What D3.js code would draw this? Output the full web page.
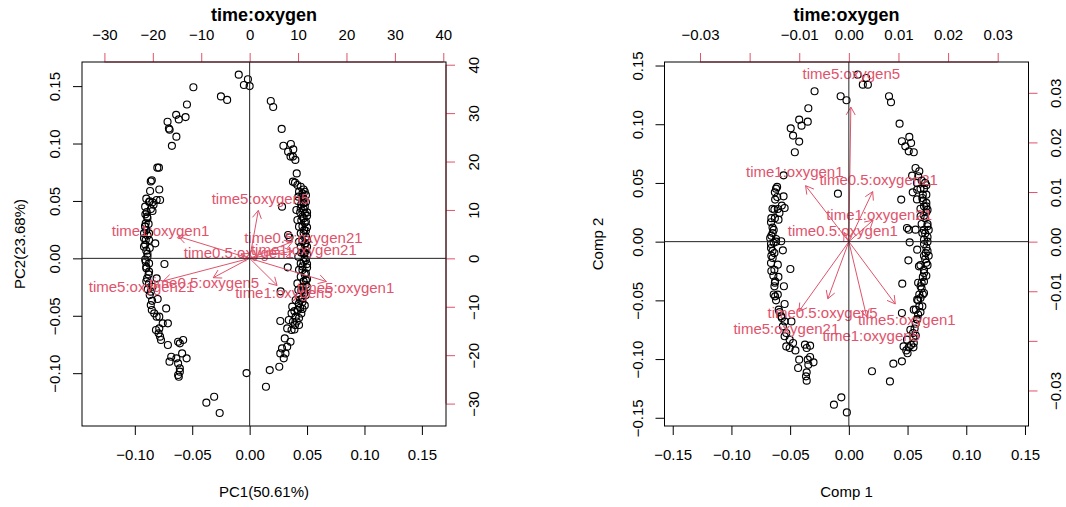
<!DOCTYPE html>
<html><head><meta charset="utf-8">
<script src="https://cdn.jsdelivr.net/npm/d3@7"></script>
<style>
body{margin:0;background:#fff}
svg{display:block}
text{font-family:"Liberation Sans",Arial,Helvetica,sans-serif}
</style>
</head><body>
<svg id="c" width="1066" height="507"></svg>
<script>
// ---------------- data ----------------
const varNames = ["time0.5:oxygen1","time1:oxygen1","time5:oxygen1",
                  "time0.5:oxygen5","time1:oxygen5","time5:oxygen5",
                  "time0.5:oxygen21","time1:oxygen21","time5:oxygen21"];

// left panel (prcomp biplot): loadings in top/right axis units
const leftLoadX = [-2.24, -18.4, 19.8, -9.4, 7.08, 2.24, 11.1, 11.2, -22.3];
const leftLoadY = [1.17, 5.64, -5.98, -5.0, -7.01, 12.37, 4.33, 1.86, -5.84];

// right panel (princomp biplot): loadings
const rightLoadX = [-0.0012, -0.0109, 0.0117, -0.0053, 0.0045, 0.0005, 0.0060, 0.0061, -0.0126];
const rightLoadY = [0.0023, 0.0141, -0.0157, -0.0144, -0.0190, 0.0339, 0.0126, 0.0054, -0.0176];

// scores, left panel [PC1, PC2]
const leftScores = [
[-0.0095,0.160],[-0.0015,0.156],[-0.005,0.151],[0.000,0.150],[-0.049,0.149],[-0.025,0.141],[-0.0196,0.138],[-0.0546,0.134],[-0.0715,0.119],[-0.064,0.125],[-0.0558,0.123],[-0.0617,0.121],[-0.0703,0.113],[-0.0697,0.112],[-0.0638,0.106],[-0.0677,0.098],[-0.0804,0.079],[-0.079,0.079],[-0.0852,0.068],[-0.0861,0.067],[-0.0787,0.060],[-0.0867,0.0587],[-0.078,0.0508],[-0.0876,0.049],[-0.081,0.0508],[-0.0846,0.0488],[-0.087,0.0497],[-0.0837,0.0467],[-0.0896,0.0404],[-0.0908,0.0383],[-0.0846,0.0412],[-0.0893,0.0363],[-0.0905,0.0305],[-0.0911,0.0276],[-0.092,0.0218],[-0.09,0.0247],[-0.0876,0.0218],[-0.092,0.0174],[-0.0905,0.016],[-0.0876,0.016],[-0.0822,0.0131],[-0.092,0.0102],[-0.09,0.0067],[-0.089,0.0015],[-0.0905,-0.0029],[-0.0876,-0.0044],[-0.09,-0.0073],[-0.09,-0.0087],[-0.0742,-0.0049],[-0.0876,-0.0116],[-0.0893,-0.0174],[-0.081,-0.0174],[-0.0876,-0.0218],[-0.0846,-0.0247],[-0.0888,-0.027],[-0.0861,-0.029],[-0.0801,-0.0354],[-0.0861,-0.0407],[-0.0852,-0.045],[-0.0831,-0.0479],[-0.0787,-0.0508],[-0.0727,-0.0436],[-0.081,-0.0508],[-0.0757,-0.0566],[-0.0712,-0.0566],[-0.0787,-0.061],[-0.0816,-0.0624],[-0.0793,-0.0653],[-0.078,-0.0682],[-0.0772,-0.0711],[-0.0712,-0.0755],[-0.0623,-0.0726],[-0.0608,-0.074],[-0.0579,-0.0711],[-0.0549,-0.0871],[-0.0588,-0.0828],[-0.0638,-0.0871],[-0.0683,-0.0857],[-0.0698,-0.09],[-0.0623,-0.0915],[-0.0608,-0.0958],[-0.0623,-0.1016],[-0.0617,-0.1031],[-0.0608,-0.0987],
[-0.091,0.045],[-0.089,0.035],[-0.091,0.028],[-0.089,0.020],[-0.091,0.012],[-0.089,0.004],[-0.091,-0.001],[-0.088,-0.014],[-0.090,-0.020],[-0.087,-0.032],[-0.088,0.030],[-0.086,0.043],[-0.09,0.052],[-0.087,0.009],[-0.085,-0.037],
[-0.0377,-0.1257],[-0.0309,-0.1205],[-0.0261,-0.1347],[-0.0027,-0.0999],[0.0142,-0.1118],[0.0175,-0.0973],[0.0258,-0.0944],
[0.0184,0.137],[0.0205,0.1318],[0.0279,0.1127],[0.0294,0.0981],[0.0359,0.0996],[0.038,0.0949],[0.0335,0.0929],[0.0356,0.0886],[0.0377,0.0886],[0.0398,0.0857],[0.041,0.074],[0.0377,0.0668],[0.0395,0.0659],[0.0416,0.0639],[0.0445,0.0624],[0.043,0.0581],[0.046,0.0566],[0.0424,0.0537],[0.0469,0.0479],[0.0407,0.0421],[0.0445,0.0436],[0.0481,0.0392],[0.0282,0.045],[0.0416,0.0334],[0.046,0.0363],[0.049,0.0319],[0.043,0.0276],[0.0475,0.0247],[0.0445,0.0218],[0.049,0.0189],[0.0335,0.0203],[0.0347,0.0183],[0.043,0.0145],[0.0484,0.0131],[0.0445,0.0102],[0.049,0.0073],[0.0469,0.0044],[0.0424,0.0015],[0.049,-0.0015],[0.0445,-0.0044],[0.0332,-0.0078],[0.046,-0.0102],[0.049,-0.0131],[0.0445,-0.016],[0.049,-0.0189],[0.0416,-0.0218],[0.046,-0.0247],[0.0424,-0.0276],[0.027,-0.0287],[0.0475,-0.0305],[0.043,-0.0334],[0.0401,-0.0363],[0.043,-0.0392],[0.0371,-0.0421],[0.0416,-0.045],[0.0365,-0.0479],[0.0401,-0.0508],[0.0341,-0.0537],[0.0377,-0.0552],[0.0267,-0.0546],[0.0395,-0.0581],[0.0327,-0.061],[0.0365,-0.0624],[0.0306,-0.0697],[0.0356,-0.0726],[0.0327,-0.0769],[0.0282,-0.0784],[0.0267,-0.0828],[0.0312,-0.0828],[0.0297,-0.0871],
[0.047,0.052],[0.048,0.045],[0.046,0.028],[0.05,0.01],[0.048,0.0],[0.05,-0.005],[0.047,-0.02],[0.05,-0.025],[0.046,-0.035],[0.044,-0.043],[0.047,0.035],[0.05,0.04],[0.045,0.005],[0.049,0.024],[0.043,-0.01],[0.044,0.04],[0.042,-0.045],[0.039,-0.046],
[0.048,0.058],[0.046,0.054],[0.049,0.049],[0.047,0.043],[0.050,0.037],[0.048,0.031],[0.050,0.027],[0.047,0.022],[0.050,0.016],[0.048,0.012],[0.050,0.003],[0.047,-0.003],[0.050,-0.008],[0.048,-0.014],[0.050,-0.018],[0.047,-0.028],[0.049,-0.032],[0.046,-0.038],[0.048,-0.041],[0.045,-0.048],[0.043,-0.052],[0.046,-0.044],[0.049,0.055],[0.045,0.033],[0.046,0.015],[0.046,-0.007],[0.045,-0.028],[0.044,-0.036],[0.041,-0.055],[0.043,-0.058],[0.039,-0.062],[0.047,0.060],[0.048,0.005],[0.049,-0.023],[0.045,0.047],[0.042,0.05]
];

// scores, right panel [Comp 1, Comp 2]
const rightScores = [
[0.0075,0.1422],[0.0148,0.1394],[0.0119,0.1337],[0.0162,0.1337],[-0.0070,0.1238],[-0.0020,0.1204],[-0.0292,0.1281],[0.0342,0.1238],[0.0359,0.1187],[-0.0345,0.1136],[-0.0423,0.1039],[-0.0350,0.1022],[-0.0403,0.0988],[-0.0495,0.0965],[-0.0475,0.0903],[-0.0423,0.0852],[-0.0460,0.0761],[0.0432,0.1005],[0.0515,0.0892],[0.0452,0.0855],[0.0530,0.0840],[0.0481,0.0812],[0.0510,0.0769],[0.0553,0.0761],[0.0568,0.0627],[0.0539,0.0562],[0.0591,0.0557],
[-0.0556,0.0565],[-0.0611,0.0466],[-0.0620,0.0451],[-0.0556,0.0386],[-0.0628,0.0358],[-0.0571,0.0307],[-0.0547,0.0287],[-0.0605,0.0278],[-0.0634,0.0273],[-0.0591,0.0244],[-0.0663,0.0165],[-0.0599,0.0187],[-0.0649,0.0074],[-0.0620,0.0023],[-0.0663,-0.0020],[-0.0576,0.0003],[-0.0663,-0.0054],[-0.0634,-0.0097],[-0.0562,-0.0074],[-0.0649,-0.0139],[-0.0663,-0.0182],[-0.0605,-0.0196],[-0.0634,-0.0239],[-0.0643,-0.0290],[-0.0628,-0.0338],[-0.0498,-0.0233],[-0.0553,-0.0380],[-0.0634,-0.0380],[-0.0605,-0.0451],[-0.0628,-0.0466],[-0.0547,-0.0531],[-0.0597,-0.0579],[-0.0576,-0.0636],[-0.0547,-0.0679],[-0.0489,-0.0679],[-0.0562,-0.0721],[-0.0533,-0.0778],[-0.0547,-0.0806],[-0.0504,-0.0835],[-0.0475,-0.0863],[-0.0533,-0.0892],[-0.0504,-0.0906],[-0.0455,-0.0926],[-0.0374,-0.0877],[-0.0330,-0.0886],[-0.0359,-0.0906],[-0.0423,-0.1005],[-0.0432,-0.1076],[-0.0350,-0.1005],[-0.0301,-0.1028],[-0.0345,-0.1048],[-0.0359,-0.1113],[-0.0365,-0.1147],[-0.0359,-0.1184],[-0.0330,-0.0982],
[-0.066,0.005],[-0.064,-0.001],[-0.065,0.012],[-0.063,0.02],[-0.066,-0.012],[-0.062,0.0],[-0.060,-0.03],
[-0.065,0.028],[-0.066,0.020],[-0.064,0.010],[-0.067,0.003],[-0.065,-0.008],[-0.066,-0.025],[-0.063,-0.035],[-0.064,-0.045],[-0.062,-0.05],[-0.061,0.038],[-0.063,0.042],[-0.059,-0.06],[-0.057,-0.065],
[-0.0093,0.0409],[0.0446,0.0358],[0.0544,0.0420],[0.0582,0.0443],[0.0626,0.0372],[0.0640,0.0301],[0.0611,0.0216],[0.0495,0.0116],[0.0510,0.0102],[0.0568,0.0102],[0.0518,-0.0006],[0.0626,0.0074],[0.0640,0.0017],[0.0582,-0.0068],[0.0669,0.0131],[0.0655,-0.0097],[0.0507,-0.0159],[0.0597,-0.0210],[0.0640,-0.0267],[0.0455,-0.0358],[0.0611,-0.0380],[0.0640,-0.0437],[0.0582,-0.0494],[0.0626,-0.0551],[0.0553,-0.0579],[0.0452,-0.0608],[0.0582,-0.0664],[0.0524,-0.0750],[0.0547,-0.0778],[0.0495,-0.0835],[0.0553,-0.0863],[0.0466,-0.0892],[0.0489,-0.0926],[0.0452,-0.1019],[0.0379,-0.1039],[0.0197,-0.1104],[0.0350,-0.1190],
[0.066,0.03],[0.065,0.02],[0.067,0.0],[0.066,-0.005],[0.064,0.01],[0.065,-0.015],[0.063,-0.03],[0.062,-0.035],[0.06,-0.045],[0.059,-0.05],[0.063,0.04],[0.061,0.045],[0.058,0.05],[0.066,0.025],[0.067,-0.02],[0.061,-0.06],[0.057,-0.07],[0.055,-0.09],[0.05,-0.095],[0.057,-0.08],
[0.064,0.045],[0.066,0.040],[0.063,0.035],[0.066,0.033],[0.067,0.027],[0.064,0.022],[0.067,0.015],[0.065,0.007],[0.067,0.004],[0.064,-0.002],[0.067,-0.008],[0.064,-0.012],[0.066,-0.018],[0.064,-0.024],[0.066,-0.029],[0.062,-0.040],[0.064,-0.034],[0.061,-0.048],[0.063,-0.045],[0.060,-0.055],[0.059,-0.062],[0.058,-0.066],[0.056,-0.074],[0.055,-0.082],[0.053,-0.088],[0.051,-0.09],[0.062,0.052],[0.060,0.060],[0.065,0.050],[0.068,0.010],[0.068,-0.012],[0.061,0.028],[0.062,0.015],[0.061,-0.02],[0.059,-0.035],[0.057,-0.058],[0.058,0.036],[0.066,0.048],
[-0.0127,-0.1388],[-0.0064,-0.1326],[-0.0017,-0.1454]
];

// tick values
const leftMainTicks  = [-0.10,-0.05,0.00,0.05,0.10,0.15];
const leftLoadTicks  = [-30,-20,-10,0,10,20,30,40];
const rightMainTicks = [-0.15,-0.10,-0.05,0.00,0.05,0.10,0.15];
const rightLoadTicks = [-0.03,-0.02,-0.01,0.00,0.01,0.02,0.03];
const rightLoadHidden = [-0.02]; // labels dropped by R (overlap)

const panelTitle = "time:oxygen";
const leftXLab = "PC1(50.61%)", leftYLab = "PC2(23.68%)";
const rightXLab = "Comp 1", rightYLab = "Comp 2";

// ---------------- drawing ----------------
const RED = "#DF536B";
const FS = 15;
const svg = d3.select("#c");
const minus = s => s.replace(/-/g, "\u2212");

function panel(o){
  const g = svg.append("g");
  const x = d3.scaleLinear().domain(o.dom).range([o.x0, o.x1]);
  const y = d3.scaleLinear().domain(o.dom).range([o.y1, o.y0]);
  const x2 = d3.scaleLinear().domain(o.ldom).range([o.x0, o.x1]);
  const y2 = d3.scaleLinear().domain(o.ldom).range([o.y1, o.y0]);

  // points
  g.append("g").selectAll("circle").data(o.scores).join("circle")
    .attr("cx", d => x(d[0])).attr("cy", d => y(d[1])).attr("r", 3.5)
    .attr("fill", "none").attr("stroke", "#000").attr("stroke-width", 1.15);

  const fmtMain = d => minus(d3.format(".2f")(d));
  const fmtLoad = d => (o.lhidden.some(h => Math.abs(h - d) < 1e-9)) ? "" : minus(o.lfmt(d));

  function styleAxis(sel, col){
    sel.select(".domain").remove();
    sel.selectAll(".tick line").attr("stroke", col).attr("stroke-width", 1);
    sel.selectAll(".tick text").attr("fill", "#000")
      .style("font-size", FS + "px").style("font-family", '"Liberation Sans",Arial,sans-serif');
  }
  // bottom
  const ab = g.append("g").attr("transform", `translate(0,${o.y1})`)
    .call(d3.axisBottom(x).tickValues(o.mticks).tickSize(9).tickFormat(fmtMain));
  styleAxis(ab, "#000");
  ab.selectAll(".tick text").attr("y", 34.4).attr("dy", null);
  // left
  const al = g.append("g").attr("transform", `translate(${o.x0},0)`)
    .call(d3.axisLeft(y).tickValues(o.mticks).tickSize(9).tickFormat(fmtMain));
  styleAxis(al, "#000");
  al.selectAll(".tick text").attr("x", null).attr("dy", null).attr("text-anchor", "middle")
    .attr("transform", "translate(-21.6,0) rotate(-90)");
  // top (loadings)
  const at = g.append("g").attr("transform", `translate(0,${o.y0})`)
    .call(d3.axisTop(x2).tickValues(o.lticks).tickSize(9).tickFormat(fmtLoad));
  styleAxis(at, RED);
  at.selectAll(".tick text").attr("y", -21.6).attr("dy", null);
  at.append("line").attr("x1", x2(o.lticks[0])).attr("x2", x2(o.lticks[o.lticks.length-1]))
    .attr("y1", 0).attr("y2", 0).attr("stroke", RED);
  // right (loadings)
  const ar = g.append("g").attr("transform", `translate(${o.x1},0)`)
    .call(d3.axisRight(y2).tickValues(o.lticks).tickSize(9).tickFormat(fmtLoad));
  styleAxis(ar, RED);
  ar.selectAll(".tick text").attr("x", null).attr("dy", null).attr("text-anchor", "middle")
    .attr("transform", "translate(32.6,0) rotate(-90)");
  ar.append("line").attr("y1", y2(o.lticks[0])).attr("y2", y2(o.lticks[o.lticks.length-1]))
    .attr("x1", 0).attr("x2", 0).attr("stroke", RED);

  // box
  g.append("rect").attr("x", o.x0).attr("y", o.y0).attr("width", o.x1 - o.x0).attr("height", o.y1 - o.y0)
    .attr("fill", "none").attr("stroke", "#000").attr("stroke-width", 1);

  // variable labels
  g.append("g").selectAll("text").data(o.names).join("text")
    .attr("x", (d, i) => x2(o.lx[i])).attr("y", (d, i) => y2(o.ly[i]) + 5.4)
    .attr("text-anchor", "middle").attr("fill", RED).style("font-size", FS + "px").text(d => d);

  // arrows
  const ag = g.append("g").attr("stroke", RED).attr("stroke-width", 1).attr("fill", "none");
  o.names.forEach((n, i) => {
    const sx = x2(0), sy = y2(0), ex = x2(o.lx[i] * 0.8), ey = y2(o.ly[i] * 0.8);
    ag.append("line").attr("x1", sx).attr("y1", sy).attr("x2", ex).attr("y2", ey);
    const ang = Math.atan2(ey - sy, ex - sx), L = 9, a = Math.PI / 6;
    [ang + a, ang - a].forEach(t => {
      ag.append("line").attr("x1", ex).attr("y1", ey)
        .attr("x2", ex - L * Math.cos(t)).attr("y2", ey - L * Math.sin(t));
    });
  });

  // zero lines
  g.append("line").attr("x1", o.x0).attr("x2", o.x1).attr("y1", y(0)).attr("y2", y(0)).attr("stroke", "#222");
  g.append("line").attr("y1", o.y0).attr("y2", o.y1).attr("x1", x(0)).attr("x2", x(0)).attr("stroke", "#222");

  // titles
  const cx = (o.x0 + o.x1) / 2, cy = (o.y0 + o.y1) / 2;
  g.append("text").attr("x", cx).attr("y", 20.7).attr("text-anchor", "middle")
    .style("font-size", "18px").style("font-weight", "bold").text(panelTitle);
  g.append("text").attr("x", cx).attr("y", 497).attr("text-anchor", "middle")
    .style("font-size", FS + "px").text(o.xlab);
  g.append("text").attr("transform", `translate(${o.ylabX},${cy}) rotate(-90)`).attr("text-anchor", "middle")
    .style("font-size", FS + "px").text(o.ylab);
}

panel({
  x0: 82, x1: 446, y0: 62, y1: 426,
  dom: [-0.146, 0.171], ldom: [-34.63, 40.56],
  mticks: leftMainTicks, lticks: leftLoadTicks, lhidden: [], lfmt: d3.format("d"),
  scores: leftScores, names: varNames, lx: leftLoadX, ly: leftLoadY,
  xlab: leftXLab, ylab: leftYLab, ylabX: 25
});
panel({
  x0: 664.5, x1: 1028.5, y0: 62, y1: 426,
  dom: [-0.157, 0.153], ldom: [-0.03716, 0.03621],
  mticks: rightMainTicks, lticks: rightLoadTicks, lhidden: rightLoadHidden, lfmt: d3.format(".2f"),
  scores: rightScores, names: varNames, lx: rightLoadX, ly: rightLoadY,
  xlab: rightXLab, ylab: rightYLab, ylabX: 603
});
</script>
</body></html>
